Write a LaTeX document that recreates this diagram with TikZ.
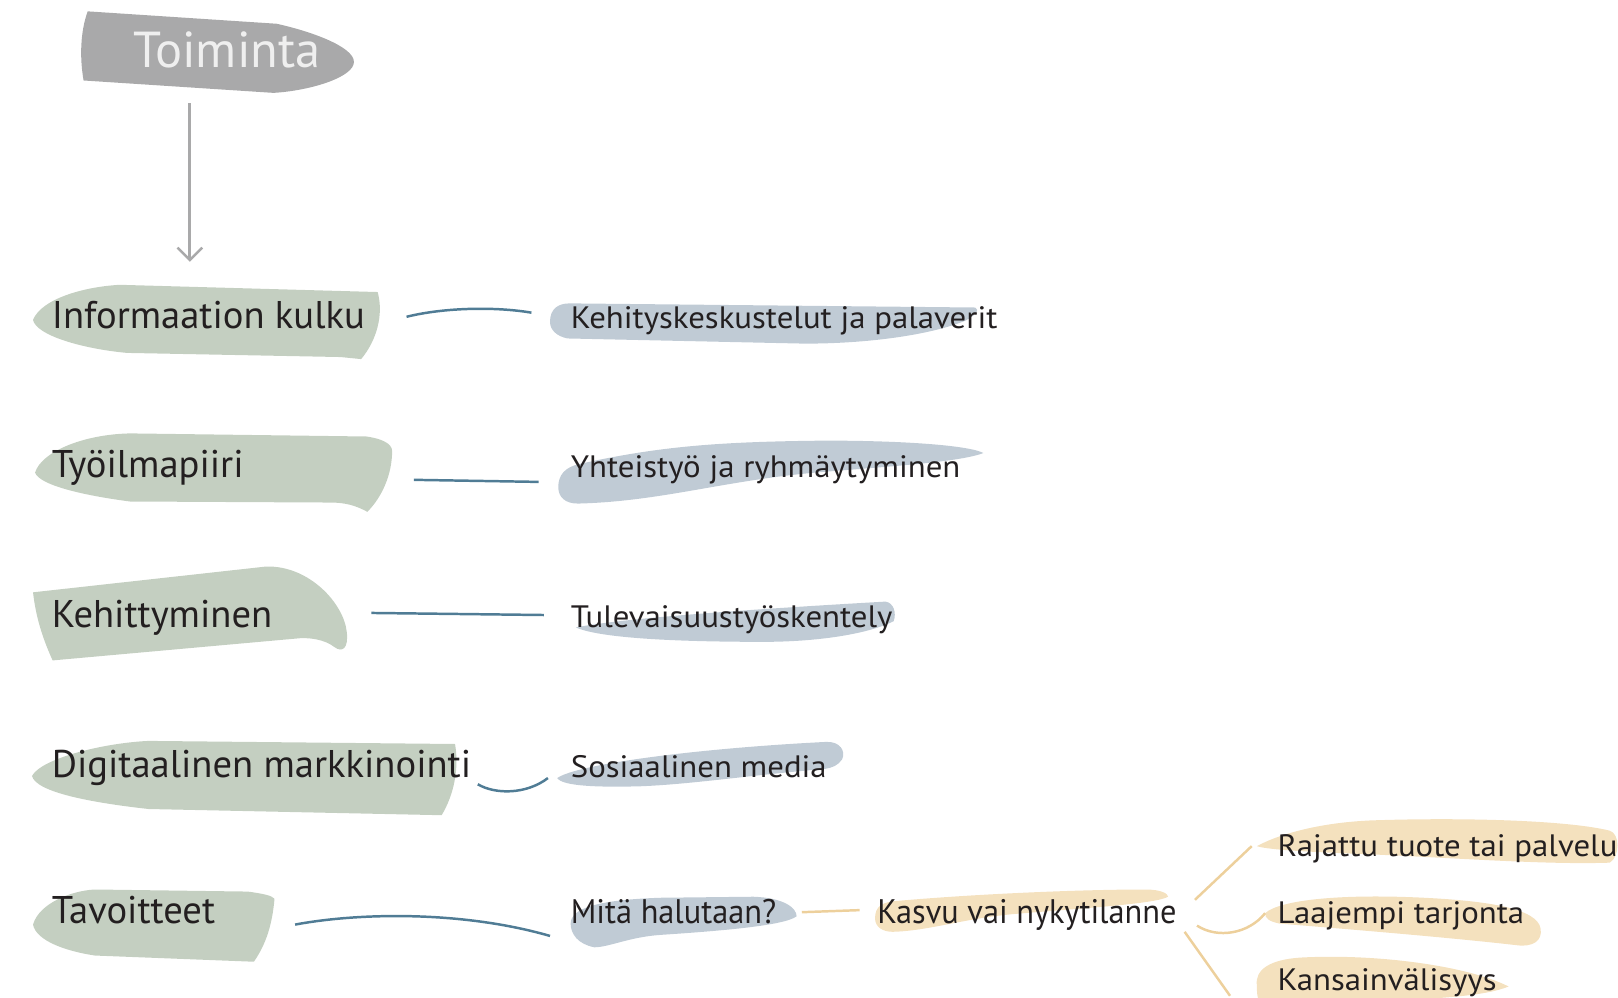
\documentclass[tikz,border=0pt]{standalone}
\usepackage{fontspec}
\setmainfont{PT Sans}
\newfontfamily\widefont[FakeStretch=1.06]{PT Sans}
\newfontfamily\condfont[FakeStretch=0.95]{PT Sans}
\definecolor{ink}{HTML}{231F20}
\definecolor{sage}{HTML}{C4CFC1}
\definecolor{mist}{HTML}{C0CBD5}
\definecolor{sand}{HTML}{F4E1BE}
\definecolor{stone}{HTML}{A9A9AA}
\definecolor{pale}{HTML}{EFEFEF}
\definecolor{teal}{HTML}{507C95}
\definecolor{straw}{HTML}{EDD09C}
\tikzset{
  lab/.style={anchor=base west, inner sep=0pt, text=ink},
  big/.style={lab, font=\fontsize{37.4}{44}\selectfont},
  mid/.style={lab, font=\widefont\fontsize{30}{36}\selectfont},
  cond/.style={lab, font=\condfont\fontsize{33}{38}\selectfont},
  bluelink/.style={draw=teal, line width=2.4pt},
  sandlink/.style={draw=straw, line width=2.4pt},
}
\begin{document}
\begin{tikzpicture}[x=1pt,y=-1pt]
\useasboundingbox (0,0) rectangle (1568,967);

% ---- brush-stroke backgrounds ----
% header
\fill[stone] (85,11) -- (268,23) .. controls (300,30) and (343,45) .. (343,60)
  .. controls (343,75) and (300,88) .. (265,90) -- (81,78)
  .. controls (77,55) and (78,30) .. (85,11) -- cycle;

% left column (sage)
\fill[sage] (32,310) .. controls (40,290) and (80,278) .. (116,276) -- (366,283)
  .. controls (372,305) and (365,330) .. (350,348) -- (330,346) -- (123,342)
  .. controls (80,338) and (35,325) .. (32,310) -- cycle;
\fill[sage] (34,458) .. controls (40,438) and (80,421) .. (126,420) -- (355,423)
  .. controls (370,425) and (380,430) .. (380,437)
  .. controls (380,460) and (370,482) .. (356,496)
  .. controls (345,490) and (335,487) .. (320,487) -- (126,486)
  .. controls (80,480) and (38,470) .. (34,458) -- cycle;
\fill[sage] (32,574) -- (258,549) .. controls (300,548) and (333,585) .. (336,612)
  .. controls (338,628) and (332,633) .. (324,627)
  .. controls (315,620) and (300,617) .. (285,619) -- (51,640)
  .. controls (42,620) and (35,600) .. (32,574) -- cycle;
\fill[sage] (31,752) .. controls (40,735) and (100,720) .. (144,718) -- (441,721)
  .. controls (445,745) and (440,770) .. (428,790) -- (144,784)
  .. controls (90,778) and (35,768) .. (31,752) -- cycle;
\fill[sage] (32,896) .. controls (38,875) and (70,863) .. (92,862) -- (240,864)
  .. controls (255,866) and (264,868) .. (266,871)
  .. controls (264,895) and (258,915) .. (246,932) -- (92,926)
  .. controls (65,922) and (35,912) .. (32,896) -- cycle;

% middle column (mist)
\fill[mist] (533,312) .. controls (533,300) and (540,294) .. (552,294) -- (945,298)
  .. controls (950,300) and (945,306) .. (935,311)
  .. controls (900,325) and (840,333) .. (780,333) -- (550,328)
  .. controls (540,326) and (533,320) .. (533,312) -- cycle;
\fill[mist] (541,472) .. controls (541,460) and (548,453) .. (560,450)
  .. controls (640,432) and (700,428) .. (800,427)
  .. controls (880,427) and (940,432) .. (953,439)
  .. controls (930,448) and (860,452) .. (790,458)
  .. controls (700,466) and (640,486) .. (560,488)
  .. controls (548,488) and (541,482) .. (541,472) -- cycle;
\fill[mist] (558,608) .. controls (600,600) and (700,592) .. (858,583)
  .. controls (866,584) and (869,594) .. (866,602)
  .. controls (840,615) and (790,622) .. (740,622)
  .. controls (650,622) and (580,618) .. (558,608) -- cycle;
\fill[mist] (540,754) .. controls (560,740) and (680,725) .. (800,719)
  .. controls (814,718) and (820,728) .. (816,736)
  .. controls (812,742) and (806,744) .. (800,745)
  .. controls (720,752) and (670,760) .. (620,762)
  .. controls (580,763) and (545,762) .. (540,754) -- cycle;
\fill[mist] (553,895) .. controls (553,880) and (580,872) .. (640,870) -- (730,869)
  .. controls (760,870) and (772,880) .. (772,888)
  .. controls (760,897) and (700,902) .. (640,906)
  .. controls (610,908) and (590,918) .. (576,918)
  .. controls (560,915) and (553,905) .. (553,895) -- cycle;

% right column (sand)
\fill[sand] (848,890) .. controls (848,878) and (855,874) .. (870,873)
  .. controls (950,866) and (1050,862) .. (1110,862)
  .. controls (1125,862) and (1132,866) .. (1132,869)
  .. controls (1120,876) and (1050,880) .. (980,886)
  .. controls (930,891) and (900,902) .. (865,903)
  .. controls (855,903) and (848,898) .. (848,890) -- cycle;
\fill[sand] (1218,820) .. controls (1240,808) and (1280,797) .. (1330,795)
  .. controls (1420,792) and (1520,795) .. (1560,805)
  .. controls (1570,808) and (1570,830) .. (1560,836)
  .. controls (1500,838) and (1420,832) .. (1330,828)
  .. controls (1280,826) and (1230,824) .. (1218,820) -- cycle;
\fill[sand] (1226,885) .. controls (1240,872) and (1300,866) .. (1380,870)
  .. controls (1440,873) and (1490,880) .. (1493,900)
  .. controls (1495,912) and (1485,918) .. (1470,916)
  .. controls (1400,908) and (1300,900) .. (1240,895)
  .. controls (1230,893) and (1226,890) .. (1226,885) -- cycle;
\fill[sand] (1218,955) .. controls (1216,940) and (1230,930) .. (1260,928)
  .. controls (1330,924) and (1420,935) .. (1462,956)
  .. controls (1440,965) and (1400,967) .. (1350,970) -- (1220,970)
  .. controls (1218,965) and (1218,960) .. (1218,955) -- cycle;

% ---- labels ----
\node[anchor=base, inner sep=0pt, text=pale, font=\fontsize{49}{56}\selectfont] (top) at (220,65) {Toiminta};

\node[big] (L1) at (50,318) {Informaation kulku};
\node[big] (L2) at (50,463) {Työilmapiiri};
\node[big] (L3) at (50,608) {Kehittyminen};
\node[big] (L4) at (50,753) {Digitaalinen markkinointi};
\node[big] (L5) at (50,895) {Tavoitteet};

\node[mid] (R1) at (553,318) {Kehityskeskustelut ja palaverit};
\node[mid] (R2) at (553,463) {Yhteistyö ja ryhmäytyminen};
\node[mid] (R3) at (553,608) {Tulevaisuustyöskentely};
\node[mid] (R4) at (553,753) {Sosiaalinen media};
\node[cond] (R5) at (553,895) {Mitä halutaan?};

\node[cond] (K) at (850,895) {Kasvu vai nykytilanne};

\node[mid] (S1) at (1238,830) {Rajattu tuote tai palvelu};
\node[mid] (S2) at (1238,895) {Laajempi tarjonta};
\node[mid] (S3) at (1238,960) {Kansainvälisyys};

% ---- connectors ----
\draw[stone, line width=3pt] ([shift={(-36,35)}]top.base) -- ([shift={(-36,185)}]top.base);
\draw[stone, line width=2.4pt, line join=miter]
  ([shift={(-48,175)}]top.base) -- ([shift={(-36,187)}]top.base) -- ([shift={(-24,175)}]top.base);

\draw[bluelink] ([shift={(344,-11)}]L1.base west) .. controls +(36,-9) and +(-35,-6) .. ([shift={(-38,-15)}]R1.base west);
\draw[bluelink] ([shift={(351,2)}]L2.base west) -- ([shift={(-31,4)}]R2.base west);
\draw[bluelink] ([shift={(310,-14)}]L3.base west) -- ([shift={(-26,-12)}]R3.base west);
\draw[bluelink] ([shift={(413,7)}]L4.base west) .. controls +(17,10) and +(-21,16) .. ([shift={(-22,1)}]R4.base west);
\draw[bluelink] ([shift={(236,1)}]L5.base west) .. controls +(64,-12) and +(-83,-24) .. ([shift={(-20,12)}]R5.base west);

\draw[sandlink] ([shift={(224,-11)}]R5.base west) -- ([shift={(-17,-13)}]K.base west);
\draw[sandlink] ([shift={(308,-23)}]K.base west) -- ([shift={(-25,-10)}]S1.base west);
\draw[sandlink] ([shift={(310,2)}]K.base west) .. controls +(20,13) and +(-16,20) .. ([shift={(-12,-10)}]S2.base west);
\draw[sandlink] ([shift={(298,8)}]K.base west) -- ([shift={(-46,5)}]S3.base west);
\end{tikzpicture}
\end{document}
